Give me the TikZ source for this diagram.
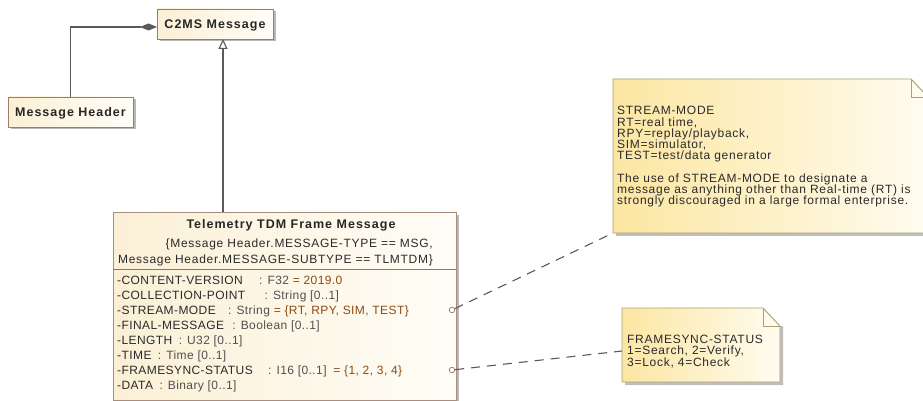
\documentclass[tikz,border=0pt]{standalone}
\usepackage{fontspec}
\setmainfont{Liberation Sans}
\newfontfamily\umlfont[LetterSpace=3.5]{Liberation Sans}
\newfontfamily\notefont[LetterSpace=6]{Liberation Sans}
\newfontfamily\umlbfont[LetterSpace=8]{Liberation Sans}
\usetikzlibrary{arrows.meta,shadows}
\definecolor{boxL}{HTML}{FBF0D6}
\definecolor{boxR}{HTML}{FFFDF7}
\definecolor{boxborder}{HTML}{9C7E64}
\definecolor{tlmborder}{HTML}{A88C7C}
\definecolor{sepc}{HTML}{A0704E}
\definecolor{noteL}{HTML}{FCE6A2}
\definecolor{noteR}{HTML}{FFFCF0}
\definecolor{noteborder}{HTML}{A8A070}
\definecolor{linec}{HTML}{5A5A5A}
\definecolor{textc}{HTML}{2A2A2A}
\definecolor{typec}{HTML}{505050}
\definecolor{valc}{HTML}{8C4A14}
\definecolor{portc}{HTML}{A08070}
\begin{document}
\begin{tikzpicture}[x=1pt,y=-1pt]
\tikzset{
  umlbox/.style={draw=boxborder, line width=0.9pt, left color=boxL, right color=boxR, inner sep=0pt, outer sep=0pt,
    drop shadow={shadow xshift=2.5pt, shadow yshift=-2.5pt, fill=black, opacity=0.28}},
  txt/.style={font=\umlfont\fontsize{12}{14}\selectfont, text=textc, inner sep=0pt, text height=8.6pt, text depth=0pt, anchor=west},
  ntxt/.style={txt, font=\notefont\fontsize{12}{14}\selectfont},
  ttl/.style={font=\umlbfont\fontsize{12.5}{14}\selectfont\bfseries, text=black!85, inner sep=0pt, text height=9pt, text depth=0pt},
  notebox/.style={inner sep=0pt, outer sep=0pt, anchor=north west},
  notefill/.style={left color=noteL, right color=noteR},
  noteline/.style={draw=noteborder, line width=0.9pt},
  conn/.style={draw=linec, line width=1.1pt},
  dashconn/.style={draw=linec, line width=1.1pt, dash pattern=on 9pt off 7pt},
  port/.style={circle, draw=portc, line width=0.8pt, fill=white, minimum size=5.5pt, inner sep=0pt},
}
\useasboundingbox (0,0) rectangle (923,401);
\fill[white] (0,0) rectangle (923,401);

% classes
\node[umlbox, minimum width=116pt, minimum height=30pt] (c2ms) at (215,24) {};
\node[ttl] (c2mst) at (c2ms.center) {C2MS Message};
\node[umlbox, minimum width=125pt, minimum height=30pt] (mh) at (70.5,112) {};
\node[ttl] (mht) at (mh.center) {Message Header};
\node[umlbox, draw=tlmborder, minimum width=343pt, minimum height=188pt] (tlm) at (284.5,306) {};
\draw[draw=sepc, line width=0.9pt] (tlm.west |- 0,269) coordinate (sepl) -- (tlm.east |- sepl) coordinate (sepr);

\node[ttl] (tlmt) at (291,224) {Telemetry TDM Frame Message};
\node[ntxt, anchor=east] (cn1) at (433,243) {\{Message Header.MESSAGE-TYPE == MSG,};
\node[ntxt, anchor=east] (cn2) at (433,259) {Message Header.MESSAGE-SUBTYPE == TLMTDM\}};

\node[txt] (a1) at (117,280) {-CONTENT-VERSION};
\node[txt, text=typec] (t1) at ([xshift=16pt]a1.east) {: F32 \textcolor{valc}{= 2019.0}};
\node[txt] (a2) at (117,295) {-COLLECTION-POINT};
\node[txt, text=typec] (t2) at ([xshift=19pt]a2.east) {: String [0..1]};
\node[txt] (a3) at (117,310) {-STREAM-MODE};
\node[txt, text=typec] (t3) at ([xshift=12pt]a3.east) {: String \textcolor{valc}{= \{RT, RPY, SIM, TEST\}}};
\node[txt] (a4) at (117,325) {-FINAL-MESSAGE};
\node[txt, text=typec] (t4) at ([xshift=8pt]a4.east) {: Boolean [0..1]};
\node[txt] (a5) at (117,340) {-LENGTH};
\node[txt, text=typec] (t5) at ([xshift=6pt]a5.east) {: U32 [0..1]};
\node[txt] (a6) at (117,355) {-TIME};
\node[txt, text=typec] (t6) at ([xshift=6pt]a6.east) {: Time [0..1]};
\node[txt] (a7) at (117,370) {-FRAMESYNC-STATUS};
\node[txt, text=typec] (t7) at ([xshift=15pt]a7.east) {: I16 [0..1]\hspace{3pt} \textcolor{valc}{= \{1, 2, 3, 4\}}};
\node[txt] (a8) at (117,385) {-DATA};
\node[txt, text=typec] (t8) at ([xshift=6pt]a8.east) {: Binary [0..1]};

% relations
\coordinate (gx) at (223,0);
\draw[conn, -{Triangle[open, length=10pt, width=9pt, fill=white]}] (tlm.north -| gx) -- (c2ms.south -| gx);
\draw[conn, {Diamond[length=17pt, width=7pt]}-] ([yshift=-3pt]c2ms.west) -| (mh.north);

% notes
\node[notebox, minimum width=315pt, minimum height=154pt] (note1) at (613,79) {};
\fill[black, opacity=0.25] ([shift={(3,0)}]note1.south west) rectangle ([shift={(3,3)}]note1.south east);
\shade[notefill] (note1.north west) -- ([xshift=-17pt]note1.north east) -- ([yshift=-18pt]note1.north east) -- (note1.south east) -- (note1.south west) -- cycle;
\draw[noteline] (note1.north west) -- ([xshift=-17pt]note1.north east) -- ([yshift=-18pt]note1.north east) -- (note1.south east) -- (note1.south west) -- cycle;
\draw[noteline] ([xshift=-17pt]note1.north east) |- ([yshift=-18pt]note1.north east);

\node[ntxt] (n1a) at (617,110.7) {STREAM-MODE};
\node[ntxt] (n1b) at (617,121.9) {RT=real time,};
\node[ntxt] (n1c) at (617,133.1) {RPY=replay/playback,};
\node[ntxt] (n1d) at (617,144.3) {SIM=simulator,};
\node[ntxt] (n1e) at (617,155.5) {TEST=test/data generator};
\node[ntxt] (n1f) at (617,177.9) {The use of STREAM-MODE to designate a};
\node[ntxt] (n1g) at (617,189.1) {message as anything other than Real-time (RT) is};
\node[ntxt] (n1h) at (617,200.3) {strongly discouraged in a large formal enterprise.};

\node[notebox, minimum width=158pt, minimum height=74pt] (note2) at (622,308) {};
\fill[black, opacity=0.25] ([shift={(0,18)}]note2.north east) -- ([shift={(3,18)}]note2.north east) -- ([shift={(3,3)}]note2.south east) -- ([shift={(3,3)}]note2.south west) -- ([shift={(3,0)}]note2.south west) -- (note2.south east) -- cycle;
\shade[notefill] (note2.north west) -- ([xshift=-17pt]note2.north east) -- ([yshift=-18pt]note2.north east) -- (note2.south east) -- (note2.south west) -- cycle;
\draw[noteline] (note2.north west) -- ([xshift=-17pt]note2.north east) -- ([yshift=-18pt]note2.north east) -- (note2.south east) -- (note2.south west) -- cycle;
\draw[noteline] ([xshift=-17pt]note2.north east) |- ([yshift=-18pt]note2.north east);

\node[ntxt] (n2a) at (627,339) {FRAMESYNC-STATUS};
\node[ntxt] (n2b) at (627,350.5) {1=Search, 2=Verify,};
\node[ntxt] (n2c) at (627,362) {3=Lock, 4=Check};

% anchors
\node[port] (p1) at (452,310) {};
\node[port] (p2) at (452,370) {};
\draw[dashconn] (p1) -- (note1.south west);
\draw[dashconn] (p2) -- ([yshift=-6pt]note2.west);
\end{tikzpicture}
\end{document}
